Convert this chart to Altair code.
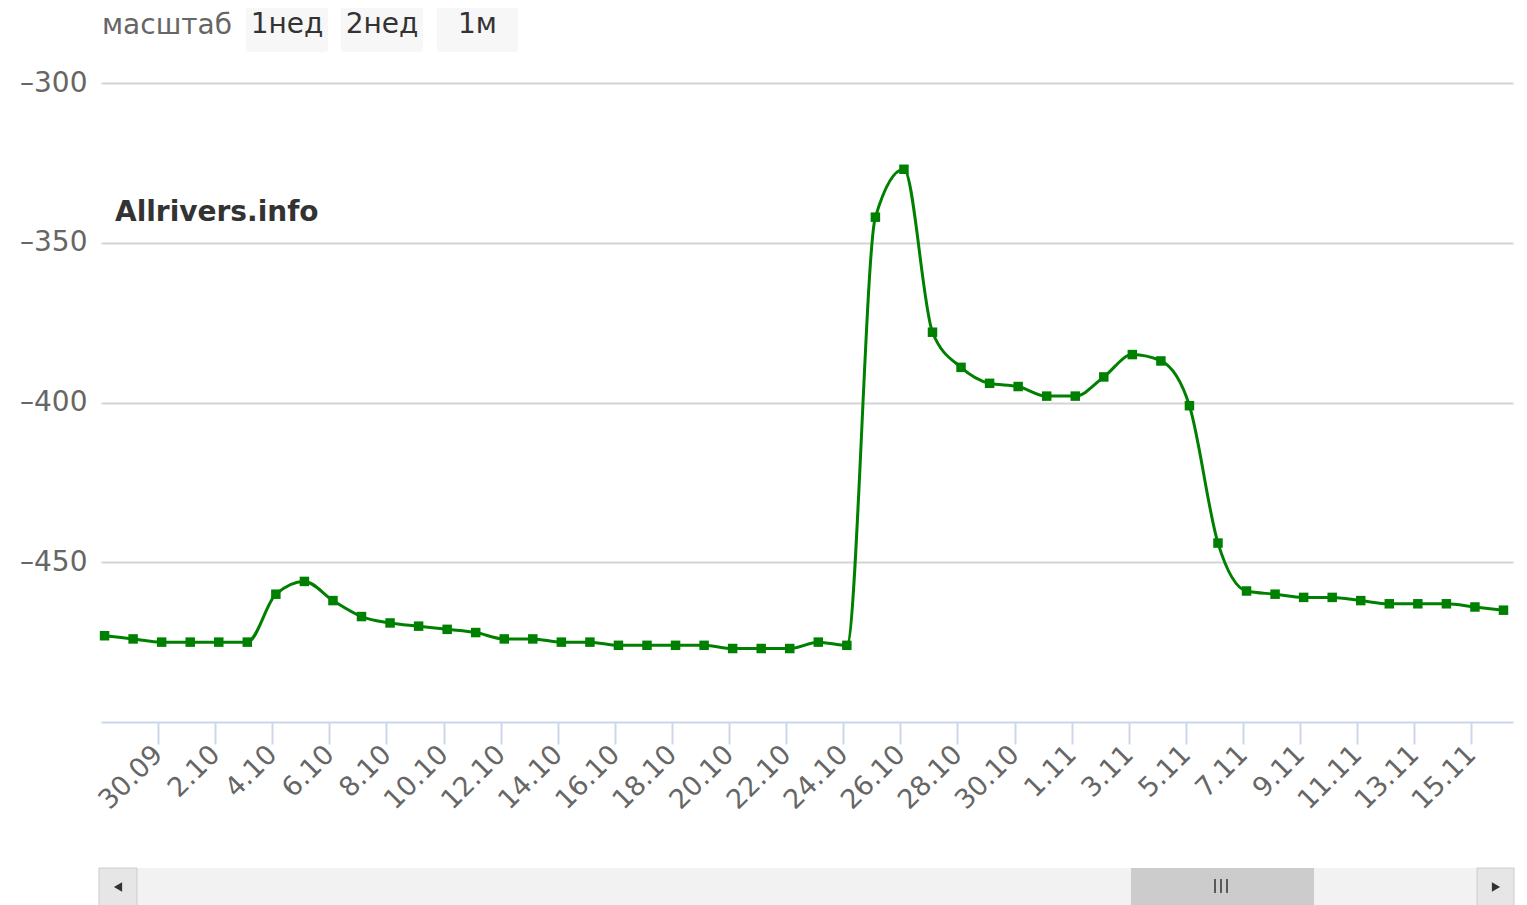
import altair as alt
import pandas as pd

# ---- data ----
start_date = "2024-09-28 03:00"
levels = [-473, -474, -475, -475, -475, -475, -460, -456, -462, -467,
          -469, -470, -471, -472, -474, -474, -475, -475, -476, -476,
          -476, -476, -477, -477, -477, -475, -476, -342, -327, -378,
          -389, -394, -395, -398, -398, -392, -385, -387, -401, -444,
          -459, -460, -461, -461, -462, -463, -463, -463, -464, -465]
dates = pd.date_range(start_date, periods=len(levels), freq="D")
tick_dates = ["2024-09-30", "2024-10-02", "2024-10-04", "2024-10-06", "2024-10-08",
              "2024-10-10", "2024-10-12", "2024-10-14", "2024-10-16", "2024-10-18",
              "2024-10-20", "2024-10-22", "2024-10-24", "2024-10-26", "2024-10-28",
              "2024-10-30", "2024-11-01", "2024-11-03", "2024-11-05", "2024-11-07",
              "2024-11-09", "2024-11-11", "2024-11-13", "2024-11-15"]
y_ticks = [-450, -400, -350, -300]
buttons = ["1нед", "2нед", "1м"]

df = pd.DataFrame({"date": dates, "level": levels})

FONT = "DejaVu Sans"
GREEN = "#008000"

def dt(s):
    t = pd.Timestamp(s)
    return alt.DateTime(year=t.year, month=t.month, date=t.day, hours=t.hour)

x_scale = alt.Scale(domain=[dt("2024-09-28 00:00"), dt("2024-11-16 11:00")])
y_scale = alt.Scale(domain=[-500, -300], nice=False)

x_enc = alt.X("date:T", scale=x_scale, title=None,
              axis=alt.Axis(values=[dt(d) for d in tick_dates], format="%-d.%m",
                            labelAngle=-45, labelAlign="right", labelBaseline="middle",
                            labelFontSize=27, labelColor="#666666", labelFont=FONT,
                            labelPadding=6, tickSize=22, tickWidth=2, tickColor="#ccd6eb",
                            domainColor="#ccd6eb", domainWidth=2, grid=False,
                            labelOverlap=False))
y_enc = alt.Y("level:Q", scale=y_scale, title=None,
              axis=alt.Axis(values=y_ticks, labelExpr="'\u2013' + format(abs(datum.value), 'd')",
                            labelFontSize=28, labelColor="#666666", labelFont=FONT,
                            labelPadding=14, ticks=False, domain=False,
                            grid=True, gridColor="#d4d4d4", gridWidth=2))

base = alt.Chart(df)
line = base.mark_line(interpolate="monotone", color=GREEN, strokeWidth=3).encode(x=x_enc, y=y_enc)
pts = base.mark_point(shape="square", filled=True, size=90, color=GREEN, opacity=1).encode(x="date:T", y="level:Q")

one = pd.DataFrame({"a": [0]})

# header: range selector
hdr_label = alt.Chart(one).mark_text(text="масштаб", font=FONT, fontSize=28, color="#666666",
                                     align="left", baseline="middle").encode(
    x=alt.value(1), y=alt.value(-57))

btn_df = pd.DataFrame({"label": buttons, "x0": [145, 240, 336], "x1": [227, 322, 417]})
btn_rect = alt.Chart(btn_df).mark_rect(color="#f7f7f7", cornerRadius=3).encode(
    x=alt.X("x0:Q", scale=None), x2="x1:Q", y=alt.value(-83), y2=alt.value(-31))
btn_text = alt.Chart(btn_df).transform_calculate(xc="(datum.x0 + datum.x1) / 2").mark_text(
    font=FONT, fontSize=28, color="#333333", baseline="middle").encode(
    x=alt.X("xc:Q", scale=None), y=alt.value(-58), text="label:N")

credit = alt.Chart(one).mark_text(text="Allrivers.info", font=FONT, fontSize=28, fontWeight="bold",
                                  color="#333333", align="left", baseline="middle").encode(
    x=alt.value(14), y=alt.value(130))

# scrollbar
sb_track = alt.Chart(one).mark_rect(color="#f2f2f2").encode(
    x=alt.value(-2), x2=alt.value(1413), y=alt.value(785), y2=alt.value(830))
sb_btn_l = alt.Chart(one).mark_rect(color="#e6e6e6", stroke="#cccccc", strokeWidth=1).encode(
    x=alt.value(-2), x2=alt.value(36), y=alt.value(785), y2=alt.value(830))
sb_btn_r = alt.Chart(one).mark_rect(color="#e6e6e6", stroke="#cccccc", strokeWidth=1).encode(
    x=alt.value(1376), x2=alt.value(1413), y=alt.value(785), y2=alt.value(830))
sb_thumb = alt.Chart(one).mark_rect(color="#cccccc").encode(
    x=alt.value(1030), x2=alt.value(1213), y=alt.value(785), y2=alt.value(830))
sb_arr_l = alt.Chart(one).mark_point(shape="triangle-left", filled=True, color="#333333", size=90, opacity=1).encode(
    x=alt.value(17), y=alt.value(804))
sb_arr_r = alt.Chart(one).mark_point(shape="triangle-right", filled=True, color="#333333", size=90, opacity=1).encode(
    x=alt.value(1395), y=alt.value(804))
grip_df = pd.DataFrame({"gx": [1114, 1120, 1126]})
sb_grip = alt.Chart(grip_df).mark_rule(color="#333333", strokeWidth=1.5).encode(
    x=alt.X("gx:Q", scale=None), y=alt.value(796), y2=alt.value(810))

chart = alt.layer(
    line, pts, hdr_label, btn_rect, btn_text, credit,
    sb_track, sb_btn_l, sb_btn_r, sb_thumb, sb_arr_l, sb_arr_r, sb_grip
).properties(
    width=1412, height=639,
    background="white",
    autosize=alt.AutoSizeParams(type="none"),
    padding={"left": 93, "top": 75, "right": 6, "bottom": 186},
).configure_view(strokeWidth=0)

chart.save("out.html", embed_options={"renderer": "svg", "actions": False})
